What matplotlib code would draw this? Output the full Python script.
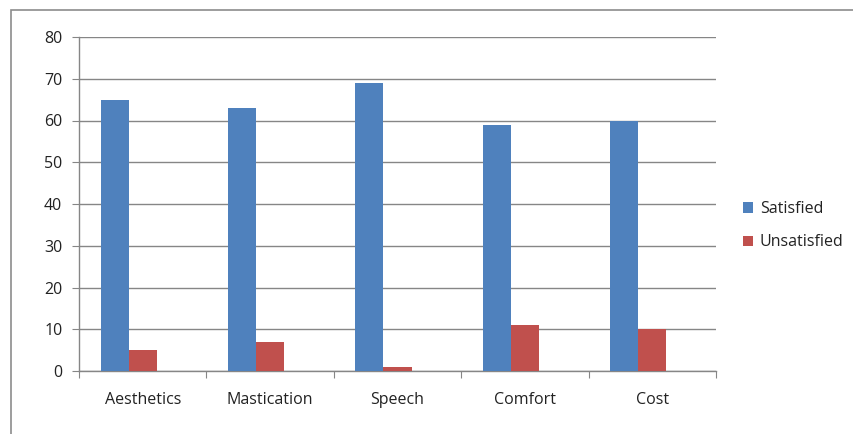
import numpy as np
import matplotlib.pyplot as plt
from matplotlib.patches import Rectangle

# Dados do gráfico
categorias = ["Aesthetics", "Mastication", "Speech", "Comfort", "Cost"]
satisfeitos = [65, 63, 69, 59, 60]
insatisfeitos = [5, 7, 1, 11, 10]
series = ["Satisfied", "Unsatisfied"]

azul = "#4F81BD"
vermelho = "#C0504D"
cinza = "#868686"

plt.rcParams["font.family"] = ["Open Sans", "DejaVu Sans"]

fig = plt.figure(figsize=(8.54, 4.34), dpi=100)
ax = fig.add_axes([79 / 854, 63 / 434, 637 / 854, 334 / 434])

# moldura exterior estilo Excel
fig.patches.append(Rectangle((11 / 854, -0.1), 1.2, (424 / 434) + 0.1,
                             transform=fig.transFigure, fill=False,
                             edgecolor="#8C8C8C", linewidth=1.2))

x = np.arange(len(categorias))
largura = 0.22
# Excel reserva espaço para uma terceira série vazia, por isso o grupo fica à esquerda
ax.bar(x - largura, satisfeitos, largura, color=azul, label=series[0], zorder=3)
ax.bar(x, insatisfeitos, largura, color=vermelho, label=series[1], zorder=3)

ax.set_xlim(-0.5, len(categorias) - 0.5)
ax.set_ylim(0, 80)
ax.set_yticks(range(0, 81, 10))
ax.yaxis.grid(True, color=cinza, linewidth=1, zorder=0)

# ticks nas fronteiras, rótulos no centro
ax.set_xticks(np.arange(-0.5, len(categorias), 1))
ax.set_xticklabels([])
ax.set_xticks(x, minor=True)
ax.set_xticklabels(categorias, minor=True)
ax.tick_params(axis="x", which="major", length=5, color=cinza, direction="out")
ax.tick_params(axis="x", which="minor", length=0, pad=15, labelsize=11.5, labelcolor="#222222")
ax.tick_params(axis="y", length=5, color=cinza, pad=7, labelsize=11.5, labelcolor="#222222")

for lado in ["top", "right"]:
    ax.spines[lado].set_visible(False)
for lado in ["left", "bottom"]:
    ax.spines[lado].set_color(cinza)
    ax.spines[lado].set_linewidth(1)

ax.legend(loc="center left", bbox_to_anchor=(1.02, 0.435), frameon=False,
          fontsize=11.5, handlelength=0.65, handleheight=0.65, labelspacing=1.1,
          handletextpad=0.4, labelcolor="#222222")

fig.savefig("out.png", dpi=100)
